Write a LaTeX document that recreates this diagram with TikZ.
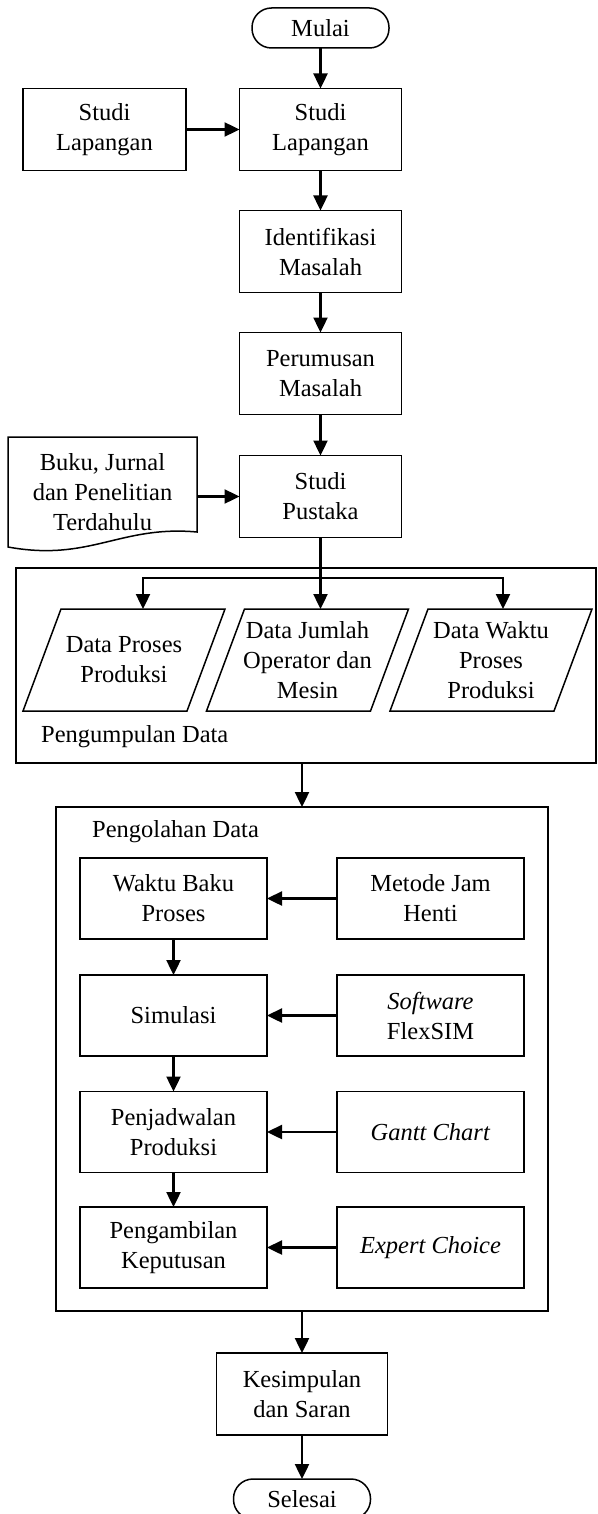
\documentclass[tikz,border=0pt]{standalone}
\usepackage{fontspec}
\setmainfont{Liberation Serif}
\usetikzlibrary{arrows.meta,positioning,calc}

\begin{document}
\begin{tikzpicture}[x=1pt, y=-1pt, >={Triangle[length=15pt,width=14pt]},
  font=\fontsize{24.5pt}{30pt}\selectfont,
  proses/.style={draw, line width=1.5pt, rectangle, align=center, minimum width=162pt, minimum height=82pt, inner sep=2pt, outer sep=0pt},
  terminal/.style={draw, line width=1.5pt, rectangle, rounded corners=19.5pt, minimum width=137pt, minimum height=40pt, inner sep=0pt, outer sep=0pt},
  masukan/.style={rectangle, align=center, minimum width=164pt, minimum height=102pt, inner sep=0pt, outer sep=0pt},
  wadah/.style={draw, line width=1.5pt, rectangle, outer sep=0pt},
  garis/.style={line width=1.5pt},
  panah/.style={->, line width=2.4pt}]

  \useasboundingbox (0,0) rectangle (597,1514);

  % Define nodes of the main flow
  \node[terminal] (mulai) at (320.5,28) {Mulai};
  \node[proses] (lapangan) at (320.5,129.5) {Studi\\Lapangan};
  \node[proses, minimum width=163pt] (lapanganL) at (104.5,129.5) {Studi\\Lapangan};
  \node[proses] (identifikasi) at (320.5,251.5) {Identifikasi\\Masalah};
  \node[proses] (perumusan) at (320.5,373.5) {Perumusan\\Masalah};
  \node[proses] (pustaka) at (320.5,496.5) {Studi\\Pustaka};
  \node[align=center, minimum width=189pt, minimum height=110pt, inner sep=0pt, outer sep=0pt] (buku) at (102.5,492) {Buku, Jurnal\\dan Penelitian\\Terdahulu};
  \draw[garis] (buku.north west) -- (buku.north east) -- ([yshift=15pt]buku.south east)
    .. controls (120,525) and (90,562) .. (buku.south west) -- cycle;

  % Pengumpulan data
  \node[wadah, minimum width=580pt, minimum height=195pt] (kumpul) at (306,665.5) {};
  \node[anchor=west, inner sep=0pt] (labelkumpul) at (41,737) {Pengumpulan Data};
  \node[masukan] (p1) at (124,660) {Data Proses\\Produksi};
  \node[masukan] (p2) at (307.5,660) {Data Jumlah\\Operator dan\\Mesin};
  \node[masukan] (p3) at (491,660) {Data Waktu\\Proses\\Produksi};
  \foreach \p in {p1,p2,p3}
    \draw[garis] ([xshift=-19pt]\p.south west) -- ([xshift=-19pt]\p.south east)
      -- ([xshift=19pt]\p.north east) -- ([xshift=19pt]\p.north west) -- cycle;

  % Pengolahan data
  \node[wadah, minimum width=492pt, minimum height=504pt] (olah) at (302,1059) {};
  \node[anchor=west, inner sep=0pt] (labelolah) at (92,832) {Pengolahan Data};
  \node[proses, minimum width=187pt, minimum height=81pt] (waktubaku) at (173.5,898.5) {Waktu Baku\\Proses};
  \node[proses, minimum width=187pt, minimum height=81pt] (jamhenti) at (430.5,898.5) {Metode Jam\\Henti};
  \node[proses, minimum width=187pt, minimum height=81pt] (simulasi) at (173.5,1015.5) {Simulasi};
  \node[proses, minimum width=187pt, minimum height=81pt] (flexsim) at (430.5,1015.5) {\textit{Software}\\FlexSIM};
  \node[proses, minimum width=187pt, minimum height=81pt] (jadwal) at (173.5,1132) {Penjadwalan\\Produksi};
  \node[proses, minimum width=187pt, minimum height=81pt] (gantt) at (430.5,1132) {\textit{Gantt Chart}};
  \node[proses, minimum width=187pt, minimum height=81pt] (keputusan) at (173.5,1247.5) {Pengambilan\\Keputusan};
  \node[proses, minimum width=187pt, minimum height=81pt] (expert) at (430.5,1247.5) {\textit{Expert Choice}};

  \node[proses, minimum width=171pt] (kesimpulan) at (302,1394) {Kesimpulan\\dan Saran};
  \node[terminal] (selesai) at (302,1499) {Selesai};

  % Draw arrows between nodes
  \draw[panah] (mulai) -- (lapangan);
  \draw[panah] (lapanganL) -- (lapangan);
  \draw[panah] (lapangan) -- (identifikasi);
  \draw[panah] (identifikasi) -- (perumusan);
  \draw[panah] (perumusan) -- (pustaka);
  \draw[panah] (buku.east |- pustaka) -- (pustaka);
  \coordinate (cabang) at (pustaka.south |- 0,578);
  \draw[panah] (pustaka) -- (pustaka |- p2.north);
  \draw[panah] (cabang) -| ([xshift=19pt]p1.north);
  \draw[panah] (cabang) -| ([xshift=12pt]p3.north);
  \draw[panah] (kumpul.south -| olah.north) -- (olah.north);
  \draw[panah] (jamhenti) -- (waktubaku);
  \draw[panah] (flexsim) -- (simulasi);
  \draw[panah] (gantt) -- (jadwal);
  \draw[panah] (expert) -- (keputusan);
  \draw[panah] (waktubaku) -- (simulasi);
  \draw[panah] (simulasi) -- (jadwal);
  \draw[panah] (jadwal) -- (keputusan);
  \draw[panah] (olah.south -| kesimpulan.north) -- (kesimpulan);
  \draw[panah] (kesimpulan) -- (selesai);

\end{tikzpicture}
\end{document}
